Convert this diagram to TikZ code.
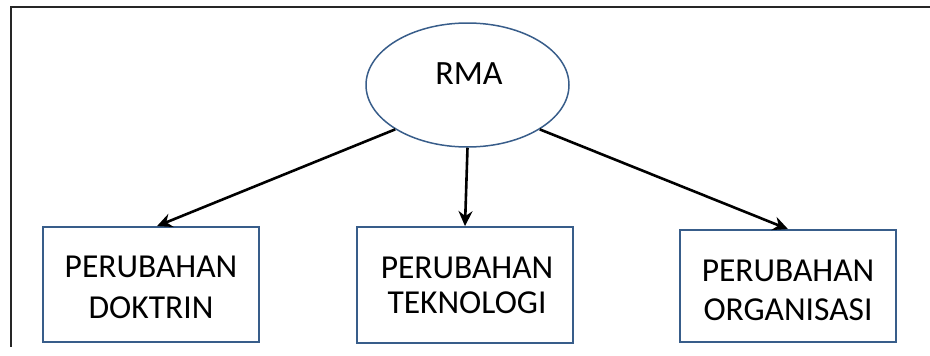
\documentclass[tikz,border=0pt]{standalone}
\usepackage{fontspec}
\setmainfont{Carlito}
\usetikzlibrary{shapes.geometric,arrows.meta}
\definecolor{boxblue}{RGB}{56,93,138}
\tikzset{
  chbox/.style={draw=boxblue, line width=1.8pt, rectangle, inner sep=0pt},
  lbl/.style={font=\fontsize{33.5}{41}\selectfont, align=center, inner sep=0pt},
  conn/.style={line width=2.6pt, -{Stealth[length=15pt,width=14pt,inset=5pt]}},
  frameline/.style={line width=2pt, draw=black!85}
}
\begin{document}
\begin{tikzpicture}[x=1pt,y=-1pt]
\useasboundingbox (0,0) rectangle (930,356);
% outer frame (top and left edges only)
\coordinate (ftl) at (11,7);
\coordinate (ftr) at (930,7);
\coordinate (fbl) at (11,347);
\draw[frameline] (ftr) -- (ftl) -- (fbl);
% ellipse
\node[ellipse, draw=boxblue, line width=1.5pt, minimum width=203pt, minimum height=124pt, inner sep=0pt] (rma) at (467.5,85) {};
\node[lbl, font=\fontsize{34}{41}\selectfont] (rmat) at (469,74) {RMA};
% boxes
\node[chbox, minimum width=216pt, minimum height=115pt] (b1) at (151,284.5) {};
\node[chbox, minimum width=216pt, minimum height=116pt] (b2) at (465,285) {};
\node[chbox, minimum width=216pt, minimum height=112pt] (b3) at (788,286) {};
\node[lbl] (t1) at (151,287) {PERUBAHAN\\DOKTRIN};
\node[lbl, font=\fontsize{33.5}{35}\selectfont] (t2) at (467,285) {PERUBAHAN\\TEKNOLOGI};
\node[lbl, font=\fontsize{33.5}{39}\selectfont] (t3) at (788,290) {PERUBAHAN\\ORGANISASI};
% connectors
\coordinate (e1) at ([xshift=6pt]b1.north);
\draw[conn] (rma.south west) -- (e1);
\draw[conn] (rma.south) -- (b2.north);
\draw[conn] (rma.south east) -- (b3.north);
\end{tikzpicture}
\end{document}
